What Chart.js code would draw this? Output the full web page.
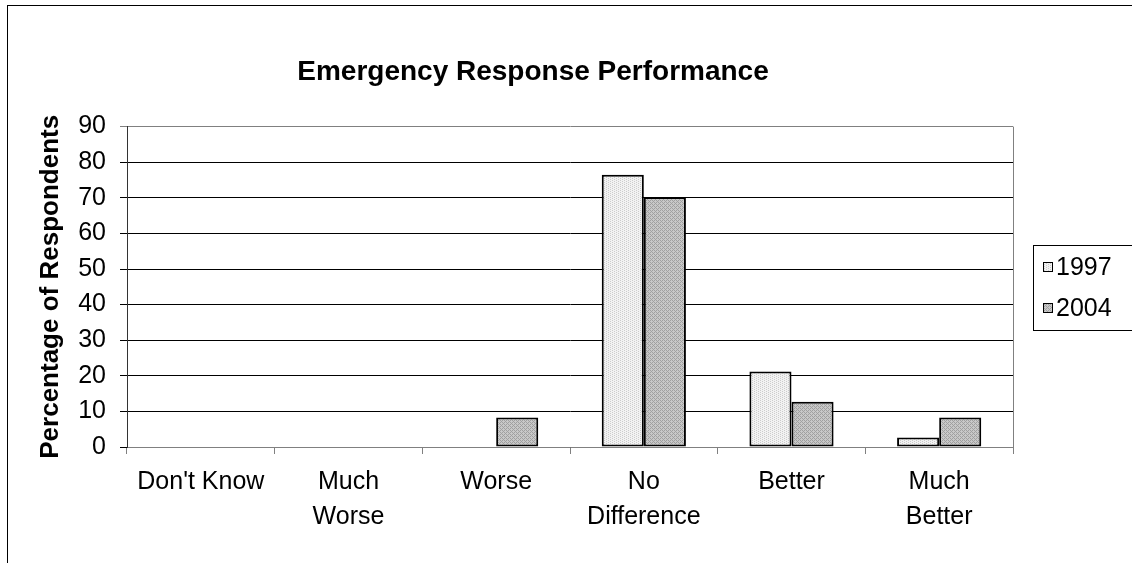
<!DOCTYPE html>
<html>
<head>
<meta charset="utf-8">
<title>Emergency Response Performance</title>
<script src="https://cdn.jsdelivr.net/npm/chart.js@4.4.1/dist/chart.umd.min.js"></script>
<style>
    html, body { margin: 0; padding: 0; background: #fff; }
    #wrap { width: 1132px; height: 563px; }
</style>
</head>
<body>
<div id="wrap"><canvas id="responseChart" width="1132" height="563"></canvas></div>
<script>
// values (percent of respondents)
const categories = ["Don't Know", ["Much", "Worse"], "Worse", ["No", "Difference"], "Better", ["Much", "Better"]];
const seriesNames = ["1997", "2004"];
const values1997 = [0, 0, 0, 76.5, 21.2, 2.7];
const values2004 = [0, 0, 8.3, 70.2, 12.7, 8.3];
const yTicks = [0, 10, 20, 30, 40, 50, 60, 70, 80, 90];

const FONT = "'Liberation Sans', Arial, sans-serif";

// small dotted fills like the old spreadsheet patterns
function makePattern(base, dot, checker) {
    const c = document.createElement("canvas");
    c.width = 4;
    c.height = 4;
    const g = c.getContext("2d");
    g.fillStyle = base;
    g.fillRect(0, 0, 4, 4);
    g.fillStyle = dot;
    if (checker) {
        g.fillRect(0, 0, 1, 1);
        g.fillRect(2, 2, 1, 1);
        g.fillRect(2, 0, 1, 1);
        g.fillRect(0, 2, 1, 1);
        g.fillRect(1, 1, 1, 1);
        g.fillRect(3, 3, 1, 1);
    } else {
        g.fillRect(0, 0, 1, 1);
        g.fillRect(0, 2, 1, 1);
        g.fillRect(2, 1, 1, 1);
        g.fillRect(2, 3, 1, 1);
    }
    return document.getElementById("responseChart").getContext("2d").createPattern(c, "repeat");
}

const fill1997 = makePattern("#f2f2f2", "#cccccc", false);
const fill2004 = makePattern("#c8c8c8", "#a0a0a0", true);

// outer frame, grey plot edge and the boxed legend on the right
const framePlugin = {
    id: "frame",
    afterDraw(chart) {
        const ctx = chart.ctx;
        const area = chart.chartArea;
        ctx.save();

        ctx.strokeStyle = "#808080";
        ctx.lineWidth = 1;
        ctx.beginPath();
        ctx.moveTo(Math.round(area.right) + 0.5, area.top);
        ctx.lineTo(Math.round(area.right) + 0.5, area.bottom);
        ctx.stroke();

        ctx.strokeStyle = "#000";
        ctx.strokeRect(7.5, 5.5, 1130, 600);

        // legend
        const lx = 1033.5, ly = 245.5;
        ctx.strokeRect(lx, ly, 110, 85);
        ctx.font = "25px " + FONT;
        ctx.textBaseline = "middle";
        ctx.textAlign = "left";
        chart.data.datasets.forEach((ds, i) => {
            const cy = 267 + i * 41;
            ctx.fillStyle = ds.backgroundColor;
            ctx.fillRect(1043, cy - 5, 10, 10);
            ctx.strokeStyle = "#000";
            ctx.strokeRect(1043.5, cy - 4.5, 9, 9);
            ctx.fillStyle = "#000";
            ctx.fillText(ds.label, 1056, cy + 1);
        });
        ctx.restore();
    }
};

new Chart(document.getElementById("responseChart"), {
    type: "bar",
    data: {
        labels: categories,
        datasets: [
            {
                label: seriesNames[0],
                data: values1997,
                backgroundColor: fill1997,
                borderColor: "#000",
                borderWidth: 2,
                borderSkipped: false
            },
            {
                label: seriesNames[1],
                data: values2004,
                backgroundColor: fill2004,
                borderColor: "#000",
                borderWidth: 2,
                borderSkipped: false
            }
        ]
    },
    options: {
        responsive: false,
        animation: false,
        layout: {
            padding: { left: 53, top: 6, right: 119, bottom: 0 }
        },
        datasets: {
            bar: { categoryPercentage: 0.57, barPercentage: 1.0 }
        },
        plugins: {
            legend: { display: false },
            tooltip: { enabled: false },
            title: {
                display: true,
                text: "Emergency Response Performance",
                color: "#000",
                font: { family: FONT, size: 28, weight: "bold" },
                padding: { top: 49, bottom: 38 }
            }
        },
        scales: {
            x: {
                grid: {
                    display: true,
                    drawOnChartArea: false,
                    drawTicks: true,
                    tickLength: 7,
                    color: "#808080",
                    offset: true
                },
                border: { display: true, color: "#808080" },
                ticks: {
                    color: "#000",
                    font: { family: FONT, size: 25, lineHeight: 1.4 },
                    padding: 11,
                    maxRotation: 0
                },
                afterFit: (s) => { s.height = 116; }
            },
            y: {
                min: 0,
                max: 90,
                afterBuildTicks: (s) => { s.ticks = yTicks.map(v => ({ value: v })); },
                grid: {
                    color: (c) => (c.tick && c.tick.value === 90 ? "#808080" : "#000"),
                    tickLength: 7,
                    lineWidth: 1
                },
                border: { display: true, color: "#333" },
                ticks: {
                    color: "#000",
                    font: { family: FONT, size: 25 },
                    padding: 14
                },
                title: {
                    display: true,
                    text: "Percentage of Respondents",
                    color: "#000",
                    font: { family: FONT, size: 26, weight: "bold" },
                    padding: { top: -18, bottom: 0 }
                },
                afterFit: (s) => { s.width = 74; }
            }
        }
    },
    plugins: [framePlugin]
});
</script>
</body>
</html>
